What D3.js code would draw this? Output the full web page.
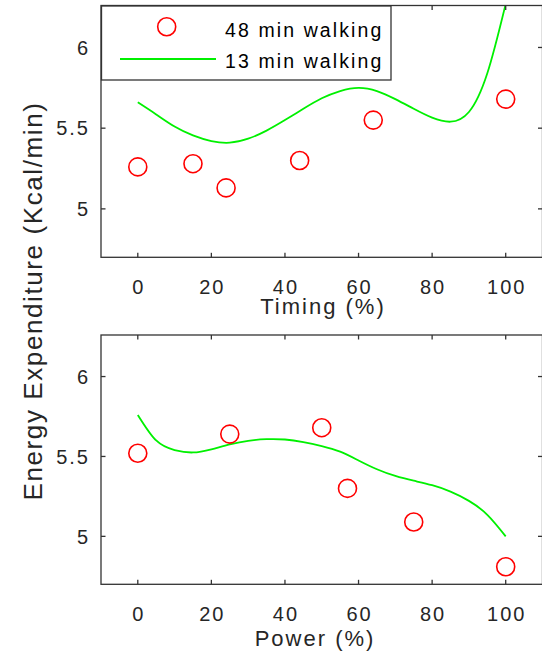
<!DOCTYPE html>
<html>
<head>
<meta charset="utf-8">
<script src="https://cdn.jsdelivr.net/npm/d3@7"></script>
<style>
  html, body { margin: 0; padding: 0; background: #fff; }
  svg { display: block; font-family: "Liberation Sans", Arial, Helvetica, sans-serif; }
  .tick-label { fill: #262626; font-size: 20px; letter-spacing: 2px; }
  .axis-title { fill: #262626; font-size: 22px; letter-spacing: 2px; }
</style>
</head>
<body>
<svg id="chart" width="542" height="652"></svg>
<script>
// measured points (48 min walking)
const timingX = [0, 15, 24, 44, 64, 100];
const timingY = [5.26, 5.28, 5.13, 5.30, 5.55, 5.68];
const powerX = [0, 25, 50, 57, 75, 100];
const powerY = [5.52, 5.64, 5.68, 5.30, 5.09, 4.81];

const fitX = [0, 5, 10, 15, 20, 25, 30, 35, 40, 45, 50, 55, 60, 65, 70, 75, 80, 85, 90, 95, 100];
const timingFit = [5.66, 5.585, 5.51, 5.455, 5.42, 5.41, 5.435, 5.485, 5.55, 5.62, 5.685, 5.73, 5.75, 5.73, 5.68, 5.62, 5.565, 5.54, 5.60, 5.84, 6.27];
const powerFit = [5.76, 5.60, 5.54, 5.525, 5.545, 5.575, 5.598, 5.608, 5.606, 5.59, 5.565, 5.53, 5.475, 5.42, 5.378, 5.348, 5.32, 5.28, 5.222, 5.135, 5.00];

const xTicks = [0, 20, 40, 60, 80, 100];
const yTicks = [5, 5.5, 6];
const legendLabels = ["48 min walking", "13 min walking"];

const svg = d3.select("#chart");
const axisColor = "#333";
const tickLen = 4.5;
const green = "#00f000";

const x = d3.scaleLinear().domain([-10, 110]).range([101, 542.5]);

function drawPanel(opts) {
    const y = d3.scaleLinear().domain([4.7, 6.26]).range([opts.bottom, opts.top]);
    const g = svg.append("g");
    const clipId = "clip-" + opts.name;

    g.append("clipPath").attr("id", clipId)
        .append("rect")
        .attr("x", x.range()[0]).attr("y", opts.top)
        .attr("width", x.range()[1] - x.range()[0])
        .attr("height", opts.bottom - opts.top);

    // fitted curve
    const line = d3.line()
        .x((d, i) => x(fitX[i]))
        .y(d => y(d))
        .curve(d3.curveNatural);

    g.append("path")
        .datum(opts.fit)
        .attr("clip-path", `url(#${clipId})`)
        .attr("fill", "none")
        .attr("stroke", green)
        .attr("stroke-width", 1.8)
        .attr("d", line);

    // data circles
    g.selectAll(".pt")
        .data(opts.ys)
        .enter().append("circle")
        .attr("class", "pt")
        .attr("cx", (d, i) => x(opts.xs[i]))
        .attr("cy", d => y(d))
        .attr("r", 9)
        .attr("fill", "none")
        .attr("stroke", "#ff0000")
        .attr("stroke-width", 1.6);

    // box
    const [x0, x1] = x.range();
    g.append("rect")
        .attr("x", x0).attr("y", opts.top)
        .attr("width", x1 - x0).attr("height", opts.bottom - opts.top)
        .attr("fill", "none")
        .attr("stroke", axisColor)
        .attr("stroke-width", 1.3);

    // x ticks, bottom and top, pointing inward
    xTicks.forEach(t => {
        g.append("line")
            .attr("x1", x(t)).attr("x2", x(t))
            .attr("y1", opts.bottom).attr("y2", opts.bottom - tickLen)
            .attr("stroke", axisColor).attr("stroke-width", 1.3);
        g.append("line")
            .attr("x1", x(t)).attr("x2", x(t))
            .attr("y1", opts.top).attr("y2", opts.top + tickLen)
            .attr("stroke", axisColor).attr("stroke-width", 1.3);
        g.append("text")
            .attr("class", "tick-label")
            .attr("x", x(t) + 1)
            .attr("y", opts.bottom + 37)
            .attr("text-anchor", "middle")
            .text(t);
    });

    // y ticks, left and right
    yTicks.forEach(t => {
        g.append("line")
            .attr("x1", x0).attr("x2", x0 + tickLen)
            .attr("y1", y(t)).attr("y2", y(t))
            .attr("stroke", axisColor).attr("stroke-width", 1.3);
        g.append("line")
            .attr("x1", x1).attr("x2", x1 - tickLen)
            .attr("y1", y(t)).attr("y2", y(t))
            .attr("stroke", axisColor).attr("stroke-width", 1.3);
        g.append("text")
            .attr("class", "tick-label")
            .attr("x", 90)
            .attr("y", y(t))
            .attr("dy", "0.36em")
            .attr("text-anchor", "end")
            .text(t);
    });

    // x axis title
    g.append("text")
        .attr("class", "axis-title")
        .attr("x", opts.titleX)
        .attr("y", opts.titleY)
        .attr("text-anchor", "middle")
        .text(opts.title);

    return y;
}

drawPanel({ name: "timing", top: 5.5, bottom: 257.3, xs: timingX, ys: timingY, fit: timingFit,
    title: "Timing (%)", titleX: 323, titleY: 314 });
drawPanel({ name: "power", top: 335, bottom: 584.3, xs: powerX, ys: powerY, fit: powerFit,
    title: "Power (%)", titleX: 315, titleY: 646 });

// shared y axis title
svg.append("text")
    .attr("transform", "translate(42,301) rotate(-90)")
    .attr("text-anchor", "middle")
    .attr("fill", "#262626")
    .style("font-size", "26px")
    .style("letter-spacing", "1.6px")
    .text("Energy Expenditure (Kcal/min)");

// legend
const legend = svg.append("g");
legend.append("rect")
    .attr("x", 101.5).attr("y", 6)
    .attr("width", 289.5).attr("height", 74)
    .attr("fill", "#fff")
    .attr("stroke", axisColor)
    .attr("stroke-width", 1.3);
legend.append("circle")
    .attr("cx", 166.7).attr("cy", 26.7).attr("r", 9)
    .attr("fill", "none").attr("stroke", "#ff0000").attr("stroke-width", 1.6);
legend.append("line")
    .attr("x1", 120).attr("x2", 216)
    .attr("y1", 59).attr("y2", 59)
    .attr("stroke", green).attr("stroke-width", 1.8);
legend.selectAll(".leg-text")
    .data(legendLabels)
    .enter().append("text")
    .attr("class", "leg-text")
    .attr("x", 225)
    .attr("y", (d, i) => 36.7 + i * 31.6)
    .attr("fill", "#000")
    .style("font-size", "19.5px")
    .style("letter-spacing", "2.1px")
    .text(d => d);
</script>
</body>
</html>
